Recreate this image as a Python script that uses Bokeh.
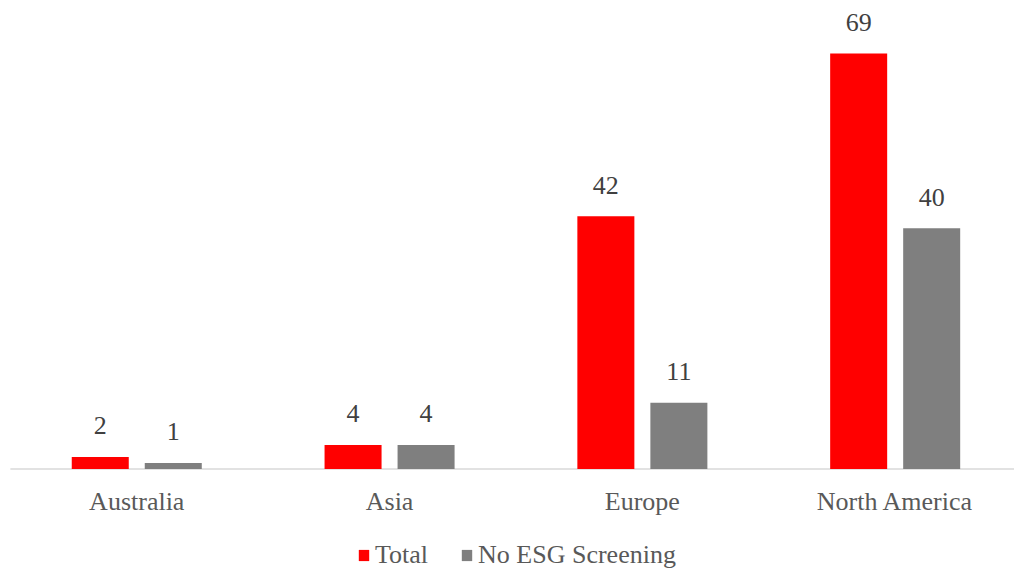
from bokeh.plotting import figure
from bokeh.models import ColumnDataSource, Range1d, Legend, LegendItem
from bokeh.core.properties import value
from bokeh.embed import file_html
from bokeh.resources import INLINE

categories = ["Australia", "Asia", "Europe", "North America"]
total = [2, 4, 42, 69]
no_esg = [1, 4, 11, 40]
series_names = ["Total", "No ESG Screening"]
colors = ["#FF0000", "#7F7F7F"]

FONT = "Liberation Serif"
idx = list(range(len(categories)))
off = 0.1444
bw = 0.2255

src_t = ColumnDataSource(dict(x=[i - off for i in idx], top=total, lab=[str(v) for v in total]))
src_n = ColumnDataSource(dict(x=[i + off for i in idx], top=no_esg, lab=[str(v) for v in no_esg]))
src_c = ColumnDataSource(dict(x=idx, y=[0] * len(idx), lab=categories))

xr = Range1d(-0.539, 3.472)
p = figure(width=1014, height=572, output_backend="svg", toolbar_location=None,
           x_range=xr, y_range=Range1d(-17.19, 77.82),
           min_border=0)
p.outline_line_color = None
p.xgrid.visible = False
p.ygrid.visible = False
p.xaxis.visible = False
p.yaxis.visible = False

# category axis baseline
p.segment(x0=[idx[0] - 0.5], y0=[0], x1=[xr.end], y1=[0], line_color="#D9D9D9", line_width=1.5)

r1 = p.vbar(x="x", top="top", width=bw, bottom=0, source=src_t, color=colors[0], line_color=None)
r2 = p.vbar(x="x", top="top", width=bw, bottom=0, source=src_n, color=colors[1], line_color=None)

for s in (src_t, src_n):
    p.text(x="x", y="top", text="lab", source=s, text_align="center", text_baseline="middle",
           y_offset=-31, text_font=value(FONT), text_font_size="26px", text_color="#404040")

p.text(x="x", y="y", text="lab", source=src_c, text_align="center", text_baseline="middle",
       y_offset=32, text_font=value(FONT), text_font_size="26px", text_color="#595959")

legend = Legend(items=[LegendItem(label=series_names[0], renderers=[r1]),
                       LegendItem(label=series_names[1], renderers=[r2])],
                orientation="horizontal", location=(357, 2),
                label_text_font=FONT, label_text_font_size="26px", label_text_color="#595959",
                glyph_width=13, glyph_height=14, label_standoff=5, spacing=32,
                border_line_color=None, background_fill_alpha=0, padding=0, margin=0)
p.add_layout(legend, "center")

open("out.html", "w").write(file_html(p, INLINE))
